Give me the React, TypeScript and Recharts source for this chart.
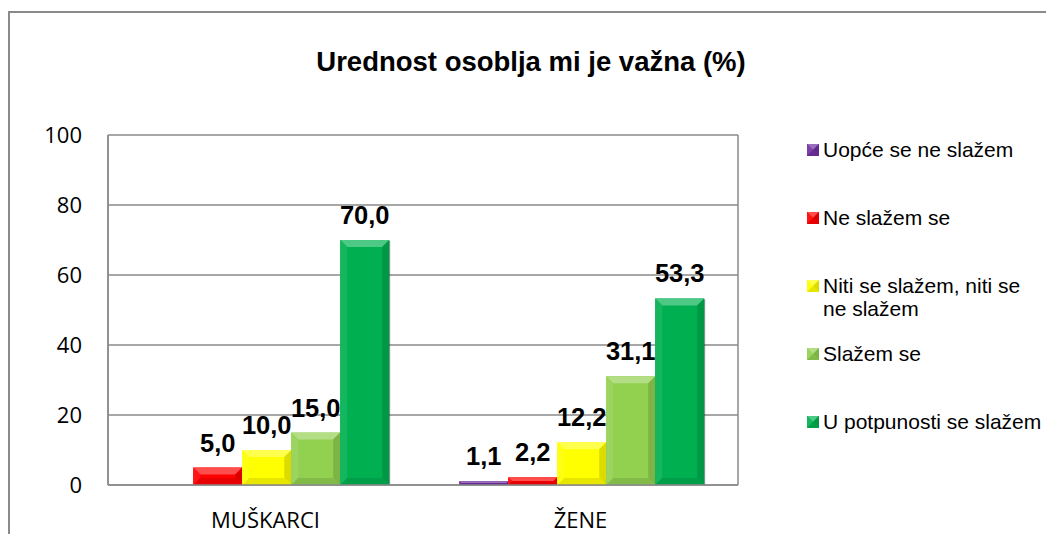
import React from 'react';
import { BarChart, Bar, XAxis, YAxis, CartesianGrid, LabelList } from 'recharts';

const categories = ['MUŠKARCI', 'ŽENE'];
const seriesNames = [
  'Uopće se ne slažem',
  'Ne slažem se',
  'Niti se slažem, niti se ne slažem',
  'Slažem se',
  'U potpunosti se slažem',
];
const seriesColors = ['#7030A0', '#FF0000', '#FFFF00', '#92D050', '#00B050'];

const uopceSeNeSlazem = [null, 1.1];
const neSlazemSe = [5.0, 2.2];
const nitiNiti = [10.0, 12.2];
const slazemSe = [15.0, 31.1];
const uPotpunosti = [70.0, 53.3];
const yTicks = [0, 20, 40, 60, 80, 100];

const seriesValues = [uopceSeNeSlazem, neSlazemSe, nitiNiti, slazemSe, uPotpunosti];

const data = categories.map((name, i) => {
  const row: Record<string, string | number | null> = { name };
  seriesValues.forEach((vals, s) => {
    row['s' + s] = vals[i];
  });
  return row;
});

const GRID = '#8a8a8a';

// mix a hex colour toward another one
const mix = (hex: string, to: string, t: number) => {
  const p = (h: string) => [1, 3, 5].map((k) => parseInt(h.slice(k, k + 2), 16));
  const a = p(hex);
  const b = p(to);
  const c = a.map((v, i) => Math.round(v + (b[i] - v) * t));
  return `rgb(${c[0]},${c[1]},${c[2]})`;
};

const BevelBar = (props: any) => {
  const { x, y, width, height, fill } = props;
  if (!height || height <= 0) return null;
  const b = Math.min(7, height / 2, width / 2);
  const w = width;
  const h = height;
  return (
    <g>
      <rect x={x} y={y} width={w} height={h} fill={fill} />
      <polygon
        points={`${x},${y} ${x + w},${y} ${x + w - b},${y + b} ${x + b},${y + b}`}
        fill={mix(fill, '#ffffff', 0.3)}
      />
      <polygon
        points={`${x},${y} ${x + b},${y + b} ${x + b},${y + h - b} ${x},${y + h}`}
        fill={mix(fill, '#ffffff', 0.08)}
      />
      <polygon
        points={`${x + w},${y} ${x + w},${y + h} ${x + w - b},${y + h - b} ${x + w - b},${y + b}`}
        fill={mix(fill, '#000000', 0.14)}
      />
      <polygon
        points={`${x},${y + h} ${x + w},${y + h} ${x + w - b},${y + h - b} ${x + b},${y + h - b}`}
        fill={mix(fill, '#000000', 0.1)}
      />
      <line x1={x + w + 0.5} y1={y + 1} x2={x + w + 0.5} y2={y + h} stroke="rgba(0,0,0,0.35)" />
    </g>
  );
};

const fmt = (v: any) => (v == null ? '' : Number(v).toFixed(1).replace('.', ','));

const Marker = ({ color }: { color: string }) => (
  <svg width={12} height={12} style={{ flex: '0 0 auto', marginTop: 6, marginRight: 4 }}>
    <BevelBar x={0} y={0} width={12} height={12} fill={color} />
  </svg>
);

export default function App() {
  return (
    <div style={{ position: 'relative', width: 1046, height: 526, overflow: 'hidden' }}>
      <div
        style={{
          position: 'absolute',
          left: 0,
          top: 3,
          width: 1200,
          height: 700,
          borderTop: `2px solid ${GRID}`,
          borderLeft: `2px solid ${GRID}`,
        }}
      />
      <div
        style={{
          position: 'absolute',
          left: 223,
          top: 39,
          width: 600,
          textAlign: 'center',
          fontFamily: '"Liberation Sans", Arial, sans-serif',
          fontWeight: 'bold',
          fontSize: 27.5,
          lineHeight: '30px',
          color: '#000',
        }}
      >
        Urednost osoblja mi je važna (%)
      </div>
      <BarChart
        width={1046}
        height={526}
        data={data}
        margin={{ top: 127, right: 316, bottom: 0, left: 40 }}
        barCategoryGap="11.5%"
        barGap={0}
      >
        <CartesianGrid
          stroke={GRID}
          strokeWidth={1.5}
          verticalCoordinatesGenerator={({ offset }: any) => [offset.left, offset.left + offset.width]}
        />
        <XAxis
          dataKey="name"
          height={49}
          tickLine={false}
          tickSize={6}
          tickMargin={21}
          axisLine={{ stroke: GRID, strokeWidth: 1.5 }}
          tick={{ fill: '#000', fontSize: 22, fontFamily: '"Open Sans", sans-serif' }}
        />
        <YAxis
          width={60}
          domain={[0, 100]}
          ticks={yTicks}
          tickLine={false}
          tickSize={6}
          tickMargin={20}
          axisLine={{ stroke: GRID, strokeWidth: 1.5 }}
          tick={{ fill: '#000', fontSize: 22, fontFamily: '"Open Sans", sans-serif' }}
        />
        {seriesNames.map((name, s) => (
          <Bar
            key={name}
            dataKey={'s' + s}
            name={name}
            fill={seriesColors[s]}
            isAnimationActive={false}
            shape={(p: any) => <BevelBar {...p} fill={seriesColors[s]} />}
          >
            <LabelList
              dataKey={'s' + s}
              position="top"
              offset={16}
              formatter={fmt}
              style={{
                fill: '#000',
                fontSize: 25.5,
                fontWeight: 'bold',
                fontFamily: '"Liberation Sans", Arial, sans-serif',
              }}
            />
          </Bar>
        ))}
      </BarChart>
      <div
        style={{
          position: 'absolute',
          left: 799,
          top: 130,
          fontFamily: '"Liberation Sans", Arial, sans-serif',
          fontSize: 21,
          lineHeight: '23px',
          color: '#000',
        }}
      >
        {seriesNames.map((name, s) => (
          <div key={name} style={{ display: 'flex', alignItems: 'flex-start', height: 68 }}>
            <Marker color={seriesColors[s]} />
            <span style={{ width: 224 }}>{name}</span>
          </div>
        ))}
      </div>
    </div>
  );
}
